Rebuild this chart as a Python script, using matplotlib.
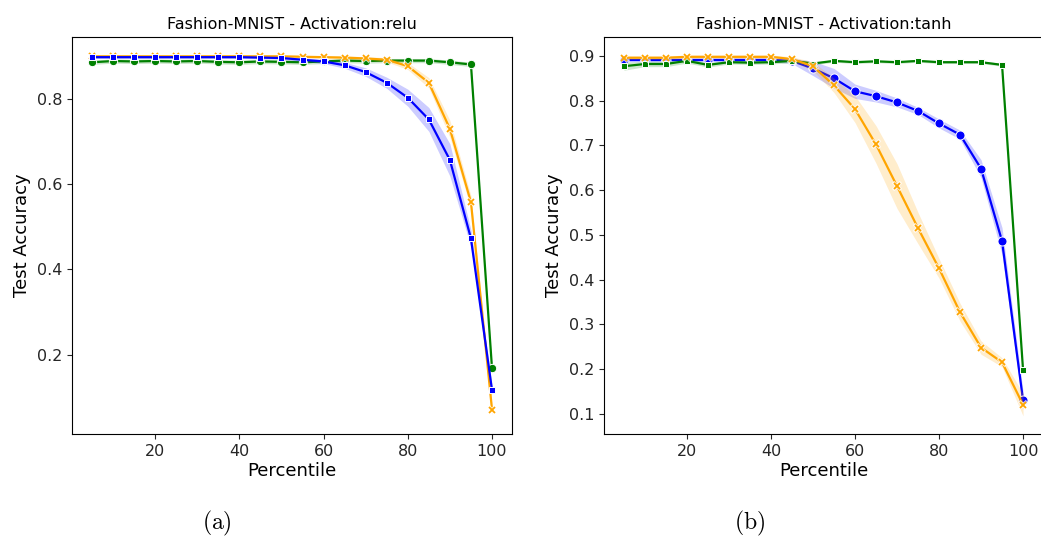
import numpy as np
import matplotlib
matplotlib.use("Agg")
import matplotlib.pyplot as plt

plt.rcParams["mathtext.fontset"] = "cm"

percentile = [5, 10, 15, 20, 25, 30, 35, 40, 45, 50,
              55, 60, 65, 70, 75, 80, 85, 90, 95, 100]

# ReLU network accuracies (mean) and half-widths of the confidence bands
relu_blue = [0.897, 0.897, 0.897, 0.897, 0.897, 0.897, 0.897, 0.897, 0.896, 0.895,
             0.891, 0.887, 0.878, 0.862, 0.837, 0.802, 0.751, 0.656, 0.472, 0.117]
relu_blue_ci = [0.003, 0.003, 0.003, 0.003, 0.003, 0.003, 0.003, 0.003, 0.003, 0.003,
                0.004, 0.005, 0.007, 0.010, 0.013, 0.020, 0.028, 0.038, 0.020, 0.010]
relu_orange = [0.899, 0.899, 0.899, 0.899, 0.899, 0.899, 0.899, 0.899, 0.899, 0.899,
               0.898, 0.897, 0.896, 0.894, 0.891, 0.876, 0.837, 0.729, 0.557, 0.071]
relu_orange_ci = [0.003, 0.003, 0.003, 0.003, 0.003, 0.003, 0.003, 0.003, 0.003, 0.003,
                  0.003, 0.003, 0.004, 0.004, 0.005, 0.008, 0.012, 0.020, 0.015, 0.015]
relu_green = [0.885, 0.888, 0.887, 0.888, 0.887, 0.888, 0.886, 0.885, 0.887, 0.886,
              0.885, 0.887, 0.889, 0.888, 0.889, 0.889, 0.889, 0.885, 0.880, 0.168]
relu_green_ci = [0.005] * 20

# tanh network accuracies (mean) and half-widths of the confidence bands
tanh_blue = [0.891, 0.891, 0.891, 0.891, 0.891, 0.891, 0.891, 0.891, 0.889, 0.872,
             0.850, 0.821, 0.810, 0.796, 0.777, 0.749, 0.724, 0.648, 0.486, 0.130]
tanh_blue_ci = [0.004, 0.004, 0.004, 0.004, 0.004, 0.004, 0.004, 0.004, 0.006, 0.016,
                0.022, 0.016, 0.013, 0.010, 0.008, 0.010, 0.010, 0.020, 0.030, 0.020]
tanh_orange = [0.896, 0.896, 0.896, 0.898, 0.898, 0.898, 0.898, 0.898, 0.893, 0.877,
               0.834, 0.781, 0.702, 0.609, 0.515, 0.425, 0.327, 0.248, 0.215, 0.120]
tanh_orange_ci = [0.004, 0.004, 0.004, 0.004, 0.004, 0.004, 0.004, 0.004, 0.005, 0.010,
                  0.016, 0.030, 0.042, 0.050, 0.035, 0.022, 0.020, 0.015, 0.010, 0.025]
tanh_green = [0.877, 0.882, 0.882, 0.889, 0.880, 0.886, 0.885, 0.886, 0.889, 0.883,
              0.889, 0.886, 0.888, 0.886, 0.889, 0.886, 0.886, 0.886, 0.880, 0.198]
tanh_green_ci = [0.009, 0.006, 0.006, 0.005, 0.005, 0.004, 0.004, 0.004, 0.004, 0.003,
                 0.003, 0.003, 0.003, 0.003, 0.003, 0.003, 0.003, 0.003, 0.003, 0.003]

titles = ["Fashion-MNIST - Activation:relu", "Fashion-MNIST - Activation:tanh"]
captions = ["(a)", "(b)"]

W, H = 1041, 543
fig = plt.figure(figsize=(W / 100, H / 100), dpi=100)
ax_a = fig.add_axes([72 / W, 1 - 434 / H, 440 / W, 397 / H])
ax_b = fig.add_axes([604 / W, 1 - 434 / H, 439 / W, 397 / H])

x = np.array(percentile)


def draw(ax, y, ci, color, marker, ms, zorder):
    y = np.array(y)
    ci = np.array(ci)
    ax.fill_between(x, y - ci, y + ci, color=color, alpha=0.2, lw=0, zorder=zorder)
    if marker == "x":
        ax.plot(x, y, color=color, lw=1.6, zorder=zorder + 0.4)
        ax.plot(x, y, ls="none", color="white", marker="x", ms=ms + 1.2, mew=2.6,
                alpha=0.7, zorder=zorder + 0.45)
        ax.plot(x, y, ls="none", color=color, marker="x", ms=ms, mew=1.3,
                zorder=zorder + 0.5)
    else:
        ax.plot(x, y, color=color, lw=1.6, marker=marker, ms=ms,
                markeredgecolor="white", mew=0.7, zorder=zorder + 0.5)


draw(ax_a, relu_green, relu_green_ci, "green", "o", 6, 2)
draw(ax_a, relu_orange, relu_orange_ci, "orange", "x", 4.5, 3)
draw(ax_a, relu_blue, relu_blue_ci, "blue", "s", 5, 4)

draw(ax_b, tanh_blue, tanh_blue_ci, "blue", "o", 6.5, 2)
draw(ax_b, tanh_green, tanh_green_ci, "green", "s", 5, 3)
draw(ax_b, tanh_orange, tanh_orange_ci, "orange", "x", 4.5, 4)

for ax, title in zip([ax_a, ax_b], titles):
    ax.set_title(title, fontsize=11.5, pad=6)
    ax.set_xlabel("Percentile", fontsize=13, labelpad=2)
    ax.set_ylabel("Test Accuracy", fontsize=13)
    ax.tick_params(labelsize=11.5, colors="#262626", labelcolor="#262626")
    ax.set_xticks([20, 40, 60, 80, 100])
    ax.margins(x=0.05, y=0.05)

ax_a.set_yticks([0.2, 0.4, 0.6, 0.8])
ax_b.set_yticks([0.1, 0.2, 0.3, 0.4, 0.5, 0.6, 0.7, 0.8, 0.9])

fig.text(217 / W, 1 - 523 / H, r"$\mathrm{%s}$" % captions[0], fontsize=17,
         ha="center", va="center")
fig.text(750 / W, 1 - 523 / H, r"$\mathrm{%s}$" % captions[1], fontsize=17,
         ha="center", va="center")

fig.savefig("out.png", dpi=100)
